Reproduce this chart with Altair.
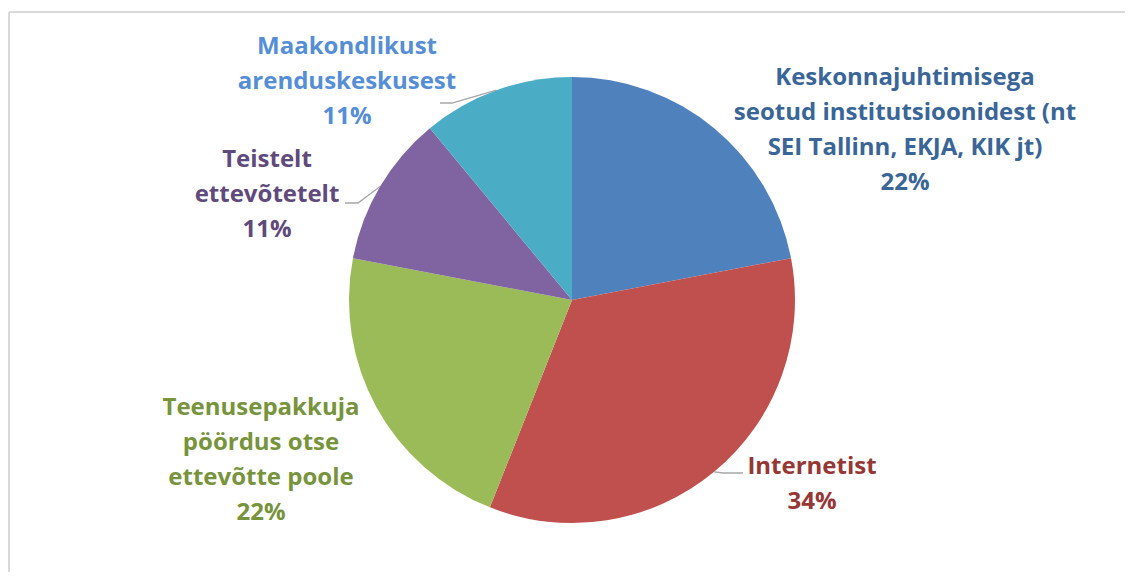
import math
import altair as alt
import pandas as pd

# ---- data ----
categories = [
    "Keskonnajuhtimisega seotud institutsioonidest (nt SEI Tallinn, EKJA, KIK jt)",
    "Internetist",
    "Teenusepakkuja pöördus otse ettevõtte poole",
    "Teistelt ettevõtetelt",
    "Maakondlikust arenduskeskusest",
]
label_lines = [
    ["Keskonnajuhtimisega", "seotud institutsioonidest (nt", "SEI Tallinn, EKJA, KIK jt)"],
    ["Internetist"],
    ["Teenusepakkuja", "pöördus otse", "ettevõtte poole"],
    ["Teistelt", "ettevõtetelt"],
    ["Maakondlikust", "arenduskeskusest"],
]
values = [22, 34, 22, 11, 11]

# ---- styles / layout ----
slice_colors = ["#4F81BD", "#C0504D", "#9BBB59", "#8064A2", "#4BACC6"]
label_colors = ["#3A6597", "#953735", "#77933C", "#604A7B", "#558ED5"]
CX, CY, R = 564, 292, 223          # pie centre / radius in plot pixels
# (x centre, y of first text line) in plot pixels
label_pos = [(897, 70), (804, 459), (253, 400), (259, 152), (339, 39)]
leader_bends = {1: [(715, 465), (735, 465)], 3: [(350, 195), (337, 195)], 4: [(444, 95), (432, 95)]}
FONT = "Open Sans"

total = sum(values)
pie_df = pd.DataFrame({
    "cat": categories,
    "value": values,
    "idx": list(range(len(values))),
})

arcs = alt.Chart(pie_df).mark_arc(radius=R, stroke=None).encode(
    theta=alt.Theta("value:Q", stack=True),
    order=alt.Order("idx:Q"),
    color=alt.Color("cat:N", scale=alt.Scale(domain=categories, range=slice_colors), legend=None),
    x=alt.value(CX),
    y=alt.value(CY),
)

# labels
lab_rows = []
for i, cat in enumerate(categories):
    lines = label_lines[i] + [f"{values[i]}%"]
    lab_rows.append({
        "cat": cat,
        "text": "\n".join(lines),
        "lx": label_pos[i][0],
        "ly": label_pos[i][1],
        "col": label_colors[i],
    })
lab_df = pd.DataFrame(lab_rows)
labels = alt.Chart(lab_df).mark_text(
    font=FONT, fontSize=24, fontWeight="bold", lineBreak="\n", lineHeight=35,
    align="center", baseline="middle",
).encode(
    x=alt.X("lx:Q", scale=None),
    y=alt.Y("ly:Q", scale=None),
    text="text:N",
    color=alt.Color("col:N", scale=None),
)

# leader lines: from slice edge at mid-angle to label
cum = 0
line_rows = []
for i, v in enumerate(values):
    mid = (cum + v / 2) / total * 2 * math.pi
    cum += v
    if i in leader_bends:
        ex = CX + R * math.sin(mid)
        ey = CY - R * math.cos(mid)
        pts = [(ex, ey)] + leader_bends[i]
        for k, (px, py) in enumerate(pts):
            line_rows.append({"key": i, "k": k, "px": px, "py": py})
line_df = pd.DataFrame(line_rows)
leaders = alt.Chart(line_df).mark_line(color="#A6A6A6", strokeWidth=1.3).encode(
    x=alt.X("px:Q", scale=None),
    y=alt.Y("py:Q", scale=None),
    detail="key:N",
    order="k:Q",
)

frame_df = pd.DataFrame({"a": [0]})
top_border = alt.Chart(frame_df).mark_rule(color="#D9D9D9", strokeWidth=2).encode(
    x=alt.value(1), x2=alt.value(1125), y=alt.value(4)
)
left_border = alt.Chart(frame_df).mark_rule(color="#D9D9D9", strokeWidth=2).encode(
    x=alt.value(1), y=alt.value(4), y2=alt.value(572)
)

chart = alt.layer(top_border, left_border, arcs, leaders, labels).properties(
    width=1117, height=564,
    autosize=alt.AutoSizeParams(type="none"),
    padding=0,
).configure_view(stroke=None)

chart.save("out.html", embed_options={"renderer": "svg", "actions": False})
